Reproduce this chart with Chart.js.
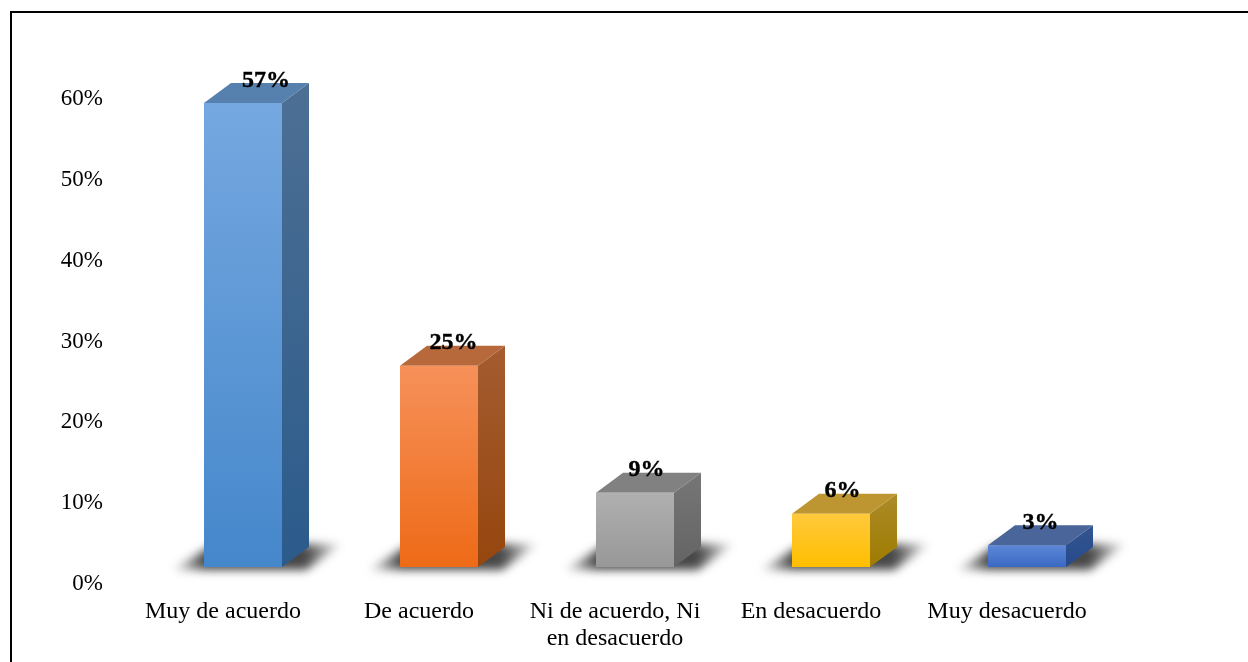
<!DOCTYPE html>
<html>
<head>
<meta charset="utf-8">
<script src="https://cdn.jsdelivr.net/npm/chart.js@4"></script>
<style>
html,body{margin:0;padding:0;background:#fff;overflow:hidden}
#wrap{position:relative;width:1248px;height:662px}
#frame{position:absolute;left:10px;top:11px;width:1240px;height:660px;border-top:2px solid #000;border-left:2px solid #000;box-sizing:border-box}
canvas{position:absolute;left:0;top:0}
</style>
</head>
<body>
<div id="wrap"><div id="frame"></div><canvas id="c" width="1248" height="662"></canvas></div>
<script>
const categories = ['Muy de acuerdo','De acuerdo',['Ni de acuerdo, Ni','en desacuerdo'],'En desacuerdo','Muy desacuerdo'];
const barHeights = [57.4, 24.9, 9.2, 6.6, 2.7];
const valueLabels = ['57%','25%','9%','6%','3%'];
const yTicks = [0,10,20,30,40,50,60];

const frontTop = ['#75A8E0','#F6915A','#B0B0B0','#FFC93C','#5E88D8'];
const frontBottom = ['#4587CB','#EE6A17','#989898','#FFBF00','#3A69C3'];
const topFace = ['#5680AE','#B8693C','#818181','#BE9631','#4A6599'];
const sideTop = ['#4D6F94','#A45C30','#767676','#AC8A28','#33558F'];
const sideBottom = ['#2B5B8B','#96460E','#646464','#9E7C00','#264A8C'];
const labelShift = [23,14.5,11.5,11.5,13.5];

const DX = 27, DY = 20;

const box3d = {
  id:'box3d',
  beforeDatasetsDraw(chart){
    const ctx = chart.ctx;
    chart.getDatasetMeta(0).data.forEach((b,i)=>{
      const L = b.x-b.width/2, R = b.x+b.width/2, T = b.y, B = b.base;
      // soft floor shadow
      ctx.save();
      ctx.filter = 'blur(5px)';
      const g = ctx.createLinearGradient(L-34,0,R+62,0);
      g.addColorStop(0,'rgba(40,40,40,0)');
      g.addColorStop(0.2,'rgba(40,40,40,.85)');
      g.addColorStop(0.78,'rgba(40,40,40,.85)');
      g.addColorStop(1,'rgba(40,40,40,0)');
      ctx.fillStyle = g;
      ctx.beginPath();
      ctx.moveTo(L-32,B+3); ctx.lineTo(R+24,B+3); ctx.lineTo(R+60,B-23); ctx.lineTo(L+10,B-23);
      ctx.closePath(); ctx.fill();
      ctx.restore();
      // side face
      const s = ctx.createLinearGradient(0,T-DY,0,B);
      s.addColorStop(0,sideTop[i]); s.addColorStop(1,sideBottom[i]);
      ctx.fillStyle = s;
      ctx.beginPath();
      ctx.moveTo(R,T); ctx.lineTo(R+DX,T-DY); ctx.lineTo(R+DX,B-DY); ctx.lineTo(R,B);
      ctx.closePath(); ctx.fill();
      // top face
      ctx.fillStyle = topFace[i];
      ctx.beginPath();
      ctx.moveTo(L,T); ctx.lineTo(L+DX,T-DY); ctx.lineTo(R+DX,T-DY); ctx.lineTo(R,T);
      ctx.closePath(); ctx.fill();
    });
  },
  afterDatasetsDraw(chart){
    const ctx = chart.ctx;
    ctx.save();
    ctx.font = 'bold 24px "Liberation Serif"';
    ctx.fillStyle = '#000';
    ctx.strokeStyle = '#000';
    ctx.lineWidth = 0.4;
    ctx.textAlign = 'center';
    ctx.textBaseline = 'middle';
    chart.getDatasetMeta(0).data.forEach((b,i)=>{
      const x = b.x+labelShift[i], y = b.y-22.5;
      ctx.fillText(valueLabels[i], x, y);
      ctx.strokeText(valueLabels[i], x, y);
    });
    ctx.restore();
  }
};

new Chart(document.getElementById('c'),{
  type:'bar',
  data:{
    labels:categories,
    datasets:[{
      data:barHeights,
      barPercentage:78/196,
      categoryPercentage:1,
      borderWidth:0,
      backgroundColor(c){
        const ch = c.chart;
        if(!ch.chartArea || c.dataIndex===undefined) return frontTop[0];
        const y = ch.scales.y;
        const g = ch.ctx.createLinearGradient(0,y.getPixelForValue(barHeights[c.dataIndex]),0,y.getPixelForValue(0));
        g.addColorStop(0,frontTop[c.dataIndex]);
        g.addColorStop(1,frontBottom[c.dataIndex]);
        return g;
      }
    }]
  },
  options:{
    responsive:false,
    animation:false,
    devicePixelRatio:1,
    layout:{padding:{top:82,right:123,left:0,bottom:0}},
    plugins:{legend:{display:false},tooltip:{enabled:false},title:{display:false}},
    scales:{
      x:{
        grid:{display:false,drawTicks:false},
        border:{display:false},
        afterFit(s){s.height=95;},
        ticks:{
          color:'#000',padding:31,labelOffset:-20,autoSkip:false,maxRotation:0,minRotation:0,
          font:{family:'"Liberation Serif"',size:24,lineHeight:1.125}
        }
      },
      y:{
        min:0,max:60,
        grid:{display:false,drawTicks:false},
        border:{display:false},
        afterFit(s){s.width=145;},
        afterBuildTicks(s){s.ticks=yTicks.map(v=>({value:v}));},
        ticks:{
          color:'#000',padding:42,labelOffset:17,
          font:{family:'"Liberation Serif"',size:23},
          callback:v=>v+'%'
        }
      }
    }
  },
  plugins:[box3d]
});
</script>
</body>
</html>
